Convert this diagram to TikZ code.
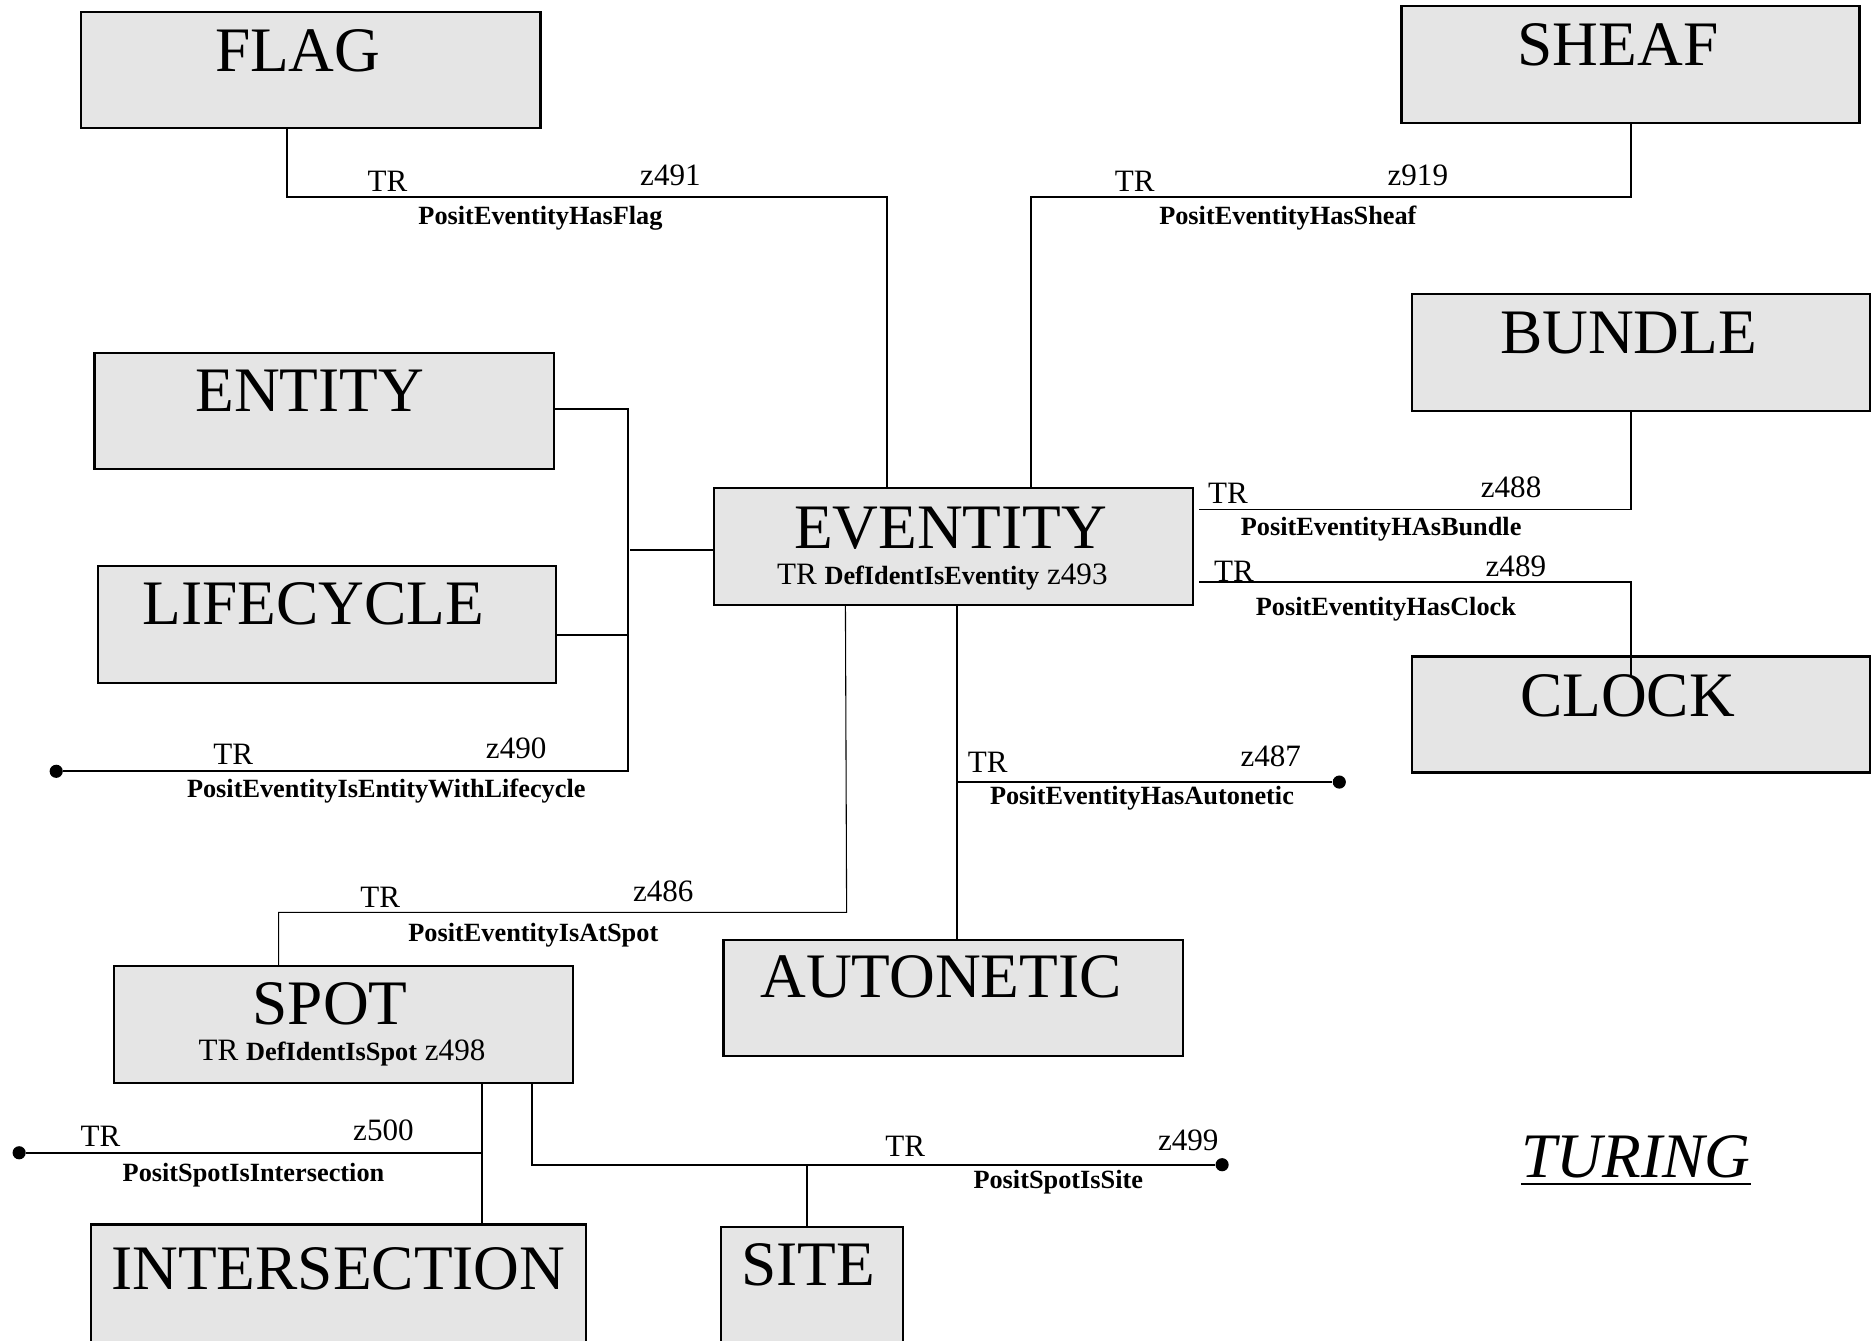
\documentclass[tikz,border=0pt]{standalone}
\usepackage{fontspec}
\setmainfont{Liberation Serif}
\usetikzlibrary{fit}
\begin{document}
\begin{tikzpicture}[x=0.5pt,y=-0.5pt,
  box/.style={draw=black, line width=0.9pt, fill=black!10, inner sep=0pt},
  big/.style={font=\fontsize{26.5}{30}\selectfont, inner sep=0pt, anchor=base},
  sm/.style={font=\fontsize{13}{15}\selectfont, inner sep=0pt, anchor=base west},
  rel/.style={font=\fontsize{11}{13}\selectfont\bfseries, inner sep=0pt, anchor=base},
  sub/.style={font=\fontsize{13}{15}\selectfont, inner sep=0pt, anchor=base},
  conn/.style={line width=0.75pt},
  thin/.style={line width=0.45pt},
  dot/.style={circle, fill=black, inner sep=0pt, minimum size=5.5pt}]
\useasboundingbox (0,0) rectangle (1568,1121);
\clip (0,0) rectangle (1568,1121);
% boxes
\node[box, fit={(68,10) (452,107)}] (flag) {};
\node[box, fit={(1172,5) (1555,103)}] (sheaf) {};
\node[box, fit={(1181,246) (1564,344)}] (bundle) {};
\node[box, fit={(79,295) (463,392)}] (entity) {};
\node[box, fit={(82,473) (465,571)}] (lifecycle) {};
\node[box, fit={(597,408) (998,506)}] (eventity) {};
\node[box, fit={(1181,549) (1564,646)}] (clock) {};
\node[box, fit={(605,786) (989,883)}] (autonetic) {};
\node[box, fit={(95,808) (479,906)}] (spot) {};
\node[box, fit={(76,1024) (490,1140)}] (intersection) {};
\node[box, fit={(603,1026) (755,1140)}] (site) {};
% box titles
\node[big] (tflag) at (249,60) {FLAG};
\node[big] (tsheaf) at (1353,55) {SHEAF};
\node[big] (tbundle) at (1362,296) {BUNDLE};
\node[big] (tentity) at (259,344) {ENTITY};
\node[big] (tlifecycle) at (262,522) {LIFECYCLE};
\node[big] (teventity) at (795,459) {EVENTITY};
\node[sub] (seventity) at (788,489) {TR {\fontsize{11}{13}\selectfont\bfseries DefIdentIsEventity} z493};
\node[big] (tclock) at (1361,599) {CLOCK};
\node[big] (tautonetic) at (787,834) {AUTONETIC};
\node[big] (tspot) at (276,857) {SPOT};
\node[sub] (sspot) at (286,887) {TR {\fontsize{11}{13}\selectfont\bfseries DefIdentIsSpot} z498};
\node[big] (tintersection) at (283,1078) {INTERSECTION};
\node[big] (tsite) at (676,1075) {SITE};
\node[big, font=\fontsize{26.5}{30}\selectfont\itshape] (turing) at (1368,985) {TURING};
\draw[line width=1.1pt] ([yshift=-2.6pt]turing.base west) -- ([yshift=-2.6pt]turing.base east);
% dots
\node[dot] (d490) at (47,645) {};
\node[dot] (d487) at (1120,654) {};
\node[dot] (d500) at (16,964) {};
\node[dot] (d499) at (1022,974) {};
% coordinates
\coordinate (fA) at (240,165); \coordinate (fB) at (742,165);
\coordinate (sA) at (1364,165); \coordinate (sB) at (862,165);
\coordinate (bA) at (1364,426); \coordinate (bB) at (1003,426);
\coordinate (cA) at (1003,487); \coordinate (cB) at (1364,487); \coordinate (cE) at (1364,566);
\coordinate (eA) at (525,342); \coordinate (lA) at (525,531); \coordinate (eB) at (525,645);
\coordinate (eC) at (527,460);
\coordinate (pA) at (707,506); \coordinate (pB) at (708,763); \coordinate (pC) at (233,763);
\coordinate (aA) at (800,654);
\coordinate (iA) at (403,964);
\coordinate (tA) at (445,974); \coordinate (tB) at (675,974);
% connectors
\draw[conn] (flag.south -| fA) -- (fA) -- (fB) -- (eventity.north -| fB);
\draw[conn] (sheaf.south -| sA) -- (sA) -- (sB) -- (eventity.north -| sB);
\draw[conn] (bundle.south -| bA) -- (bA) -- (bB);
\draw[conn] (cA) -- (cB) -- (cE);
\draw[conn] (entity.east |- eA) -- (eA) -- (eB) -- (d490);
\draw[conn] (lifecycle.east |- lA) -- (lA);
\draw[conn] (eC) -- (eventity.west |- eC);
\draw[thin] (pA) -- (pB) -- (pC) -- (spot.north -| pC);
\draw[conn] (eventity.south -| aA) -- (autonetic.north -| aA);
\draw[conn] (aA) -- (d487);
\draw[conn] (spot.south -| iA) -- (intersection.north -| iA);
\draw[conn] (iA) -- (d500);
\draw[conn] (spot.south -| tA) -- (tA) -- (d499);
\draw[conn] (tB) -- (site.north -| tB);
% connector labels
\node[sm] (l1a) at (307,160) {TR}; \node[sm] (l1b) at (535,155) {z491};
\node[rel] (l1c) at (452,188) {PositEventityHasFlag};
\node[sm] (l2a) at (932,160) {TR}; \node[sm] (l2b) at (1160,155) {z919};
\node[rel] (l2c) at (1077,188) {PositEventityHasSheaf};
\node[sm] (l3a) at (1010,421) {TR}; \node[sm] (l3b) at (1238,416) {z488};
\node[rel] (l3c) at (1155,448) {PositEventityHAsBundle};
\node[sm] (l4a) at (1015,486) {TR}; \node[sm] (l4b) at (1242,482) {z489};
\node[rel] (l4c) at (1159,515) {PositEventityHasClock};
\node[sm] (l5a) at (178,639) {TR}; \node[sm] (l5b) at (406,634) {z490};
\node[rel] (l5c) at (323,667) {PositEventityIsEntityWithLifecycle};
\node[sm] (l6a) at (301,759) {TR}; \node[sm] (l6b) at (529,754) {z486};
\node[rel] (l6c) at (446,787) {PositEventityIsAtSpot};
\node[sm] (l7a) at (809,646) {TR}; \node[sm] (l7b) at (1037,641) {z487};
\node[rel] (l7c) at (955,673) {PositEventityHasAutonetic};
\node[sm] (l8a) at (67,959) {TR}; \node[sm] (l8b) at (295,954) {z500};
\node[rel] (l8c) at (212,988) {PositSpotIsIntersection};
\node[sm] (l9a) at (740,967) {TR}; \node[sm] (l9b) at (968,962) {z499};
\node[rel] (l9c) at (885,994) {PositSpotIsSite};
\end{tikzpicture}
\end{document}
